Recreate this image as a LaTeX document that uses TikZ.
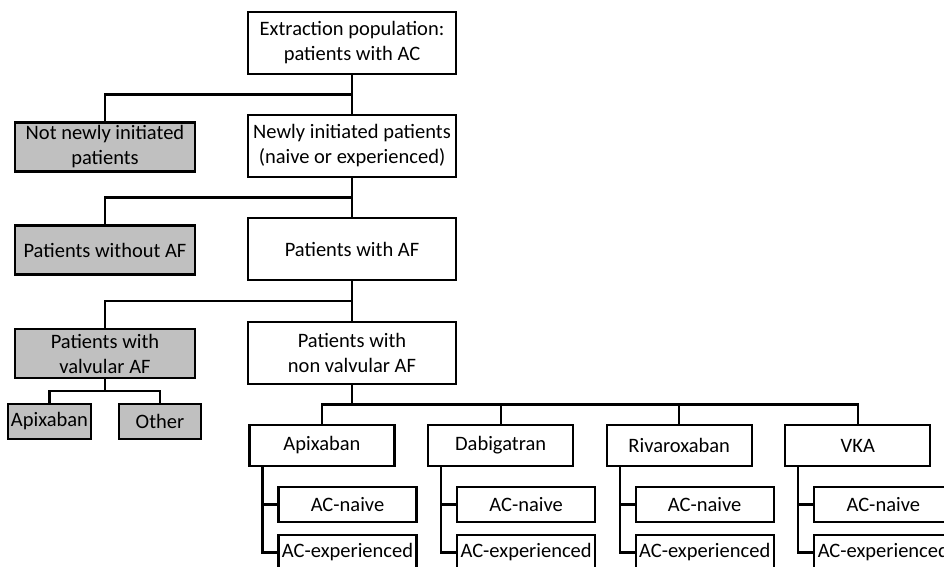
\documentclass[tikz,border=0pt]{standalone}
\usepackage{fontspec}
\setmainfont{Carlito}
\definecolor{boxgray}{RGB}{192,192,192}
\usetikzlibrary{positioning, calc}

\begin{document}
\begin{tikzpicture}[x=1pt, y=-1pt,
	linea/.style={line width=2.2pt},
	caja/.style={draw, linea, align=center, inner sep=0pt,
		font=\fontsize{20.5}{25}\selectfont},
	grande/.style={caja, minimum width=208pt, minimum height=62pt},
	gris/.style={caja, fill=boxgray, minimum width=180pt, minimum height=49pt},
	farmaco/.style={caja, minimum width=145pt, minimum height=41pt},
	sub/.style={caja, minimum width=138pt, minimum height=35pt}]
	\useasboundingbox (0,0) rectangle (944,566);
	% poblacion
	\node[grande] (extraction) at (352,43) {Extraction population:\\patients with AC};
	\node[grande] (newly) at (352,146) {Newly initiated patients\\(naive or experienced)};
	\node[grande] (af) at (352,249) {Patients with AF};
	\node[grande] (nonvalv) at (352,353) {Patients with\\non valvular AF};
	% excluidos
	\node[gris] (notnew) at (105,147) {Not newly initiated\\patients};
	\node[gris] (noaf) at (105,250) {Patients without AF};
	\node[gris] (valv) at (105,353.5) {Patients with\\valvular AF};
	\node[gris, minimum width=83pt, minimum height=35pt] (vapix) at (49.5,421.5) {Apixaban};
	\node[gris, minimum width=82pt, minimum height=35pt] (vother) at (160,421.5) {Other};
	% ramas
	\foreach \a/\b/\c in {extraction/newly/notnew, newly/af/noaf, af/nonvalv/valv}{
		\coordinate (j-\c) at ($(\a.south)!0.5!(\b.north)$);
		\draw[linea] (\a) -- (\b);
		\draw[linea] (j-\c) -| (\c.north);
	}
	\coordinate (jv) at ($(valv.south)!0.5!(valv.south |- vapix.north)$);
	\draw[linea] (valv) -- (jv);
	\draw[linea] (vapix.north) |- (jv) -| (vother.north);
	% farmacos
	\foreach \d [count=\i] in {Apixaban, Dabigatran, Rivaroxaban, VKA}{
		\pgfmathsetmacro\xd{143.4+178.6*\i}
		\node[farmaco] (drug\i) at (\xd,445.5) {\d};
		\node[sub] (naive\i) at (\xd+25.5,504.5) {AC-naive};
		\node[sub] (exper\i) at (\xd+25.5,552.5) {AC-experienced};
		\coordinate (t\i) at ([xshift=14pt]drug\i.south west);
		\draw[linea] (t\i) |- (exper\i.west);
		\draw[linea] (t\i |- naive\i.west) -- (naive\i.west);
	}
	\coordinate (jn) at ($(nonvalv.south)!0.5!(nonvalv.south |- drug1.north)$);
	\draw[linea] (nonvalv) -- (jn);
	\draw[linea] (drug1.north) |- (jn) -| (drug4.north);
	\foreach \i in {2,3}
		\draw[linea] (drug\i.north) -- (drug\i.north |- jn);
\end{tikzpicture}
\end{document}
